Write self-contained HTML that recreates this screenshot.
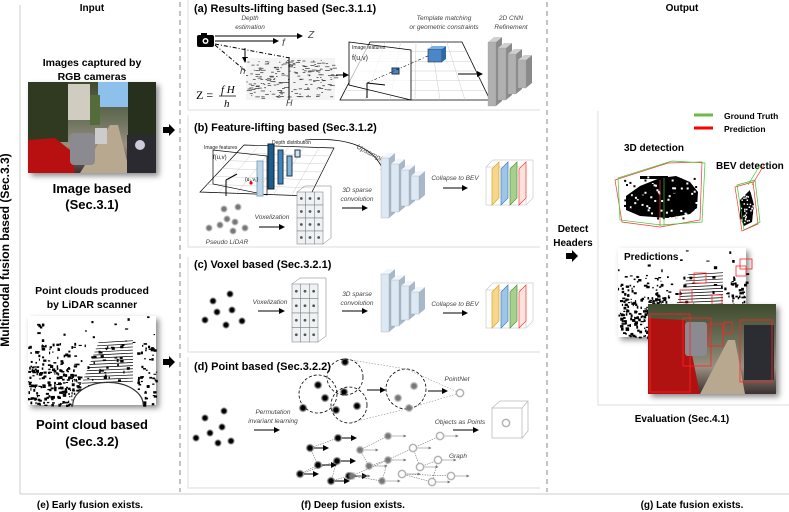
<!DOCTYPE html>
<html><head><meta charset="utf-8">
<style>
html,body{margin:0;padding:0;background:#fff;}
svg{display:block;font-family:"Liberation Sans",sans-serif;}
.b{font-weight:bold;}
.i{font-style:italic;fill:#444;}
</style></head>
<body>
<svg id="s" width="789" height="512" viewBox="0 0 789 512" xmlns="http://www.w3.org/2000/svg">
<defs>
<marker id="ar" markerWidth="6" markerHeight="6" refX="5" refY="3" orient="auto"><path d="M0,0L6,3L0,6z" fill="#000"/></marker>
<marker id="ag" markerWidth="5" markerHeight="5" refX="4" refY="2.5" orient="auto"><path d="M0,0L5,2.5L0,5z" fill="#777"/></marker>
<radialGradient id="dotk"><stop offset="0.45" stop-color="#000"/><stop offset="1" stop-color="#000" stop-opacity="0"/></radialGradient>
<radialGradient id="dotg"><stop offset="0.45" stop-color="#777"/><stop offset="1" stop-color="#777" stop-opacity="0"/></radialGradient>
<radialGradient id="dotw"><stop offset="0.5" stop-color="#fff"/><stop offset="0.7" stop-color="#999"/><stop offset="1" stop-color="#ccc" stop-opacity="0"/></radialGradient>
<filter id="sh" x="-20%" y="-20%" width="140%" height="140%"><feDropShadow dx="3" dy="3" stdDeviation="3" flood-color="#000" flood-opacity="0.45"/></filter>
<linearGradient id="sky" x1="0" y1="0" x2="0" y2="1"><stop offset="0" stop-color="#3e4a2c"/><stop offset="0.45" stop-color="#6f7560"/><stop offset="0.7" stop-color="#9a8f80"/><stop offset="1" stop-color="#3a3030"/></linearGradient>
</defs>

<line x1="20" y1="5" x2="20" y2="494" stroke="#ccc" stroke-width="1"/>
<line x1="20" y1="494" x2="789" y2="494" stroke="#ccc" stroke-width="1"/>
<line x1="180" y1="2" x2="180" y2="492" stroke="#888" stroke-width="1" stroke-dasharray="5,4"/>
<line x1="547" y1="2" x2="547" y2="492" stroke="#888" stroke-width="1" stroke-dasharray="5,4"/>

<g stroke="#ddd" fill="none">
<polyline points="188,0 188,110 540,110"/>
<polyline points="188,115 188,247 540,247"/>
<polyline points="188,257 188,352 540,352"/>
<polyline points="188,357 188,488 540,488"/>
<polyline points="598,111 598,405 789,405"/>
</g>

<text x="9" y="250" transform="rotate(-90 9 250)" text-anchor="middle" class="b" font-size="12">Multimodal fusion based (Sec.3.3)</text>
<text x="92" y="11" text-anchor="middle" class="b" font-size="10">Input</text>
<text x="682" y="11" text-anchor="middle" class="b" font-size="10">Output</text>

<text x="92" y="66" text-anchor="middle" class="b" font-size="10.5">Images captured by</text>
<text x="92" y="80" text-anchor="middle" class="b" font-size="10.5">RGB cameras</text>
<g filter="url(#sh)"><rect x="28" y="82" width="128" height="91" fill="url(#sky)"/></g>
<rect x="28" y="82" width="128" height="91" fill="url(#sky)"/>
<rect x="98" y="82" width="30" height="25" fill="#8ec0ec"/>
<rect x="28" y="82" width="40" height="60" fill="#2f3a20"/>
<rect x="128" y="82" width="28" height="60" fill="#26301c"/>
<rect x="68" y="84" width="22" height="36" fill="#d0ccc2"/>
<rect x="90" y="95" width="10" height="30" fill="#556b3a"/>
<polygon points="80,173 110,125 118,125 130,173" fill="#b8a890"/>
<path d="M28,140 L55,138 L70,150 L75,173 L28,173z" fill="#b81010"/>
<rect x="70" y="133" width="25" height="32" rx="4" fill="#8a8a90"/>
<rect x="127" y="135" width="29" height="38" fill="#2a2a30"/>
<circle cx="140" cy="145" r="5" fill="#ccd"/>
<rect x="95" y="128" width="12" height="16" fill="#ccc"/>
<text x="92" y="193" text-anchor="middle" class="b" font-size="13">Image based</text>
<text x="92" y="209" text-anchor="middle" class="b" font-size="13">(Sec.3.1)</text>

<text x="92" y="294" text-anchor="middle" class="b" font-size="10.5">Point clouds produced</text>
<text x="92" y="308" text-anchor="middle" class="b" font-size="10.5">by LiDAR scanner</text>
<rect x="28" y="316" width="128" height="89" fill="#fff" filter="url(#sh)"/>
<g id="pc1"></g>
<text x="92" y="429" text-anchor="middle" class="b" font-size="13">Point cloud based</text>
<text x="92" y="446" text-anchor="middle" class="b" font-size="13">(Sec.3.2)</text>

<path d="M163,127 h6 v-3 l6,6 l-6,6 v-3 h-6z" fill="#000"/>
<path d="M163,359 h6 v-3 l6,6 l-6,6 v-3 h-6z" fill="#000"/>
<path d="M566,253 h6 v-3 l6,6 l-6,6 v-3 h-6z" fill="#000"/>
<text x="573" y="232" text-anchor="middle" class="b" font-size="10">Detect</text>
<text x="573" y="246" text-anchor="middle" class="b" font-size="10">Headers</text>

<!-- (a) -->
<text x="194" y="12" class="b" font-size="11">(a) Results-lifting based (Sec.3.1.1)</text>
<text x="250" y="20" text-anchor="middle" class="i" font-size="6.5">Depth</text>
<text x="250" y="29" text-anchor="middle" class="i" font-size="6.5">estimation</text>
<rect x="197" y="35" width="17" height="12" rx="2" fill="#000"/>
<rect x="201" y="33" width="6" height="3" fill="#000"/>
<circle cx="205.5" cy="41" r="3" fill="#fff"/><circle cx="205.5" cy="41" r="1.5" fill="#000"/>
<line x1="215" y1="36" x2="302" y2="36" stroke="#000" marker-end="url(#ar)"/>
<text x="308" y="38" class="i" font-size="10" fill="#222">Z</text>
<line x1="215" y1="41" x2="278" y2="41" stroke="#000" marker-end="url(#ar)"/>
<text x="282" y="46" class="i" font-size="10" fill="#222">f</text>
<line x1="215" y1="44" x2="290" y2="58" stroke="#000" stroke-dasharray="4,2,1,2"/>
<line x1="215" y1="45" x2="262" y2="85" stroke="#000" stroke-dasharray="4,2,1,2"/>
<line x1="245" y1="48" x2="245" y2="62" stroke="#000" marker-end="url(#ar)"/>
<text x="240" y="74" class="i" font-size="10" fill="#222">h</text>
<rect x="246" y="58" width="89" height="42" fill="#f4f4f4"/>
<g id="dimg"></g>
<line x1="289" y1="57" x2="289" y2="100" stroke="#000"/>
<text x="286" y="106" class="i" font-size="9" fill="#222">H</text>
<text x="196" y="99" font-family="Liberation Serif,serif" font-size="12">Z =</text>
<text x="221" y="93" font-family="Liberation Serif,serif" font-style="italic" font-size="11">f H</text>
<line x1="219" y1="96" x2="236" y2="96" stroke="#000" stroke-width="0.8"/>
<text x="224" y="107" font-family="Liberation Serif,serif" font-style="italic" font-size="11">h</text>
<line x1="336" y1="75" x2="348" y2="75" stroke="#000" marker-end="url(#ar)"/>
<polygon points="370,42 462,42 490,100 340,100" fill="#fff" stroke="#000" stroke-width="0.8"/>
<g stroke="#ccc" stroke-width="0.5" id="grid1"></g>
<polygon points="349,42 411,50 411,100 349,85" fill="#fff" fill-opacity="0.7" stroke="#000" stroke-width="0.8"/>
<text x="352" y="49" font-size="5" fill="#222">Image features</text>
<text x="352" y="60" font-size="7" fill="#222">f(u,v)</text>
<line x1="367" y1="83" x2="367" y2="98" stroke="#000"/>
<line x1="367" y1="83" x2="385" y2="85" stroke="#000"/>
<rect x="392" y="68" width="7" height="6" fill="#4a86c8" stroke="#234"/>
<line x1="367" y1="83" x2="430" y2="55" stroke="#000" stroke-dasharray="3,2,1,2" stroke-width="0.6"/>
<rect x="428" y="49" width="14" height="13" fill="#4a86c8" stroke="#234" stroke-width="0.6"/>
<polygon points="428,49 432,46 446,46 442,49" fill="#7ab0e8"/>
<polygon points="442,49 446,46 446,59 442,62" fill="#2f6aa8"/>
<text x="444" y="20" text-anchor="middle" class="i" font-size="6.5">Template matching</text>
<text x="444" y="29" text-anchor="middle" class="i" font-size="6.5">or geometric constraints</text>
<text x="511" y="20" text-anchor="middle" class="i" font-size="6.5">2D CNN</text>
<text x="511" y="29" text-anchor="middle" class="i" font-size="6.5">Refinement</text>
<line x1="458" y1="74" x2="482" y2="74" stroke="#000" marker-end="url(#ar)"/>
<g id="cnn1"></g>

<!-- (b) -->
<text x="194" y="131" class="b" font-size="11">(b) Feature-lifting based (Sec.3.1.2)</text>
<polygon points="244,145 334,148 310,196 200,192" fill="#fff" stroke="#000" stroke-width="0.7"/>
<g id="grid2" stroke="#ccc" stroke-width="0.5"></g>
<polygon points="213,150 267,156 267,195 213,184" fill="none" stroke="#000" stroke-width="0.7"/>
<text x="204" y="149" font-size="5" fill="#222">Image features</text>
<text x="213" y="159" font-size="6" fill="#222">f(u,v)</text>
<text x="272" y="144" font-size="5" fill="#222">Depth distribution</text>
<rect x="257" y="161" width="6" height="35" fill="#bcd6ea" stroke="#8ab"/>
<rect x="268" y="144" width="6" height="45" fill="#1d5b8a" stroke="#123"/>
<rect x="278" y="150" width="5" height="34" fill="#3e84bd" stroke="#234"/>
<rect x="287" y="156" width="5" height="20" fill="#7fb3dc" stroke="#234"/>
<rect x="295" y="150" width="5" height="7" fill="#cfe3f3" stroke="#234"/>
<circle cx="251" cy="183" r="1.6" fill="red"/>
<line x1="226" y1="180" x2="226" y2="196" stroke="#000"/><line x1="226" y1="180" x2="237" y2="174" stroke="#000"/>
<text x="245" y="181" font-size="5">(u₁,v₁)</text>
<path d="M305,140 Q370,135 384,172" fill="none" stroke="#000" stroke-width="0.8" marker-end="url(#ar)"/>
<text x="356" y="148" class="i" font-size="7" transform="rotate(28 356 148)">Upsampling</text>
<g id="cnn2"></g>
<text x="455" y="180" text-anchor="middle" class="i" font-size="6.5">Collapse to BEV</text>
<line x1="443" y1="188" x2="467" y2="188" stroke="#000" marker-end="url(#ar)"/>
<g id="bev1"></g>
<g id="pl"></g>
<text x="227" y="244" text-anchor="middle" class="i" font-size="6.5">Pseudo LiDAR</text>
<text x="272" y="219" text-anchor="middle" class="i" font-size="6.5">Voxelization</text>
<line x1="259" y1="227" x2="284" y2="227" stroke="#000" marker-end="url(#ar)"/>
<g id="vox1"></g>
<text x="357" y="192" text-anchor="middle" class="i" font-size="6.5">3D sparse</text>
<text x="357" y="201" text-anchor="middle" class="i" font-size="6.5">convolution</text>
<line x1="342" y1="208" x2="367" y2="208" stroke="#000" marker-end="url(#ar)"/>

<!-- (c) -->
<text x="194" y="268" class="b" font-size="11">(c) Voxel based (Sec.3.2.1)</text>
<g id="pc2"></g>
<text x="270" y="304" text-anchor="middle" class="i" font-size="6.5">Voxelization</text>
<line x1="258" y1="311" x2="284" y2="311" stroke="#000" marker-end="url(#ar)"/>
<g id="vox2"></g>
<text x="357" y="296" text-anchor="middle" class="i" font-size="6.5">3D sparse</text>
<text x="357" y="305" text-anchor="middle" class="i" font-size="6.5">convolution</text>
<line x1="342" y1="311" x2="367" y2="311" stroke="#000" marker-end="url(#ar)"/>
<g id="cnn3"></g>
<text x="455" y="306" text-anchor="middle" class="i" font-size="6.5">Collapse to BEV</text>
<line x1="443" y1="313" x2="467" y2="313" stroke="#000" marker-end="url(#ar)"/>
<g id="bev2"></g>

<!-- (d) -->
<text x="194" y="370" class="b" font-size="11">(d) Point based (Sec.3.2.2)</text>
<g id="pc3"></g>
<text x="273" y="414" text-anchor="middle" class="i" font-size="6.5">Permutation</text>
<text x="273" y="423" text-anchor="middle" class="i" font-size="6.5">invariant learning</text>
<line x1="254" y1="430" x2="279" y2="430" stroke="#000" marker-end="url(#ar)"/>
<g fill="none" stroke="#000" stroke-dasharray="3,2" stroke-width="0.8">
<circle cx="318" cy="394" r="19"/><circle cx="345" cy="377" r="18"/><circle cx="349" cy="405" r="18"/><circle cx="406" cy="389" r="20"/>
</g>
<g stroke="#777" stroke-width="0.5" stroke-dasharray="1.5,1.5">
<line x1="345" y1="359" x2="406" y2="369"/><line x1="349" y1="423" x2="406" y2="409"/>
<line x1="406" y1="369" x2="460" y2="393"/><line x1="406" y1="409" x2="460" y2="393"/>
</g>
<line x1="367" y1="390" x2="385" y2="390" stroke="#000" marker-end="url(#ar)"/>
<line x1="428" y1="391" x2="447" y2="391" stroke="#000" marker-end="url(#ar)"/>
<text x="457" y="381" text-anchor="middle" class="i" font-size="6.5">PointNet</text>
<text x="460" y="424" text-anchor="middle" class="i" font-size="6.5">Objects as Points</text>
<line x1="453" y1="430" x2="478" y2="430" stroke="#000" marker-end="url(#ar)"/>
<g fill="none" stroke="#bbb" stroke-width="0.8">
<rect x="492" y="408" width="30" height="30"/><polyline points="492,408 500,401 528,401 528,431 522,438"/><line x1="522" y1="408" x2="528" y2="401"/>
</g>
<circle cx="506" cy="423" r="5" fill="url(#dotw)"/>
<text x="458" y="458" text-anchor="middle" class="i" font-size="6.5">Graph</text>
<g id="graph"></g>

<!-- output -->
<line x1="694" y1="115" x2="713" y2="115" stroke="#6dbb44" stroke-width="3"/>
<line x1="694" y1="128" x2="713" y2="128" stroke="#f00" stroke-width="3"/>
<text x="724" y="119" class="b" font-size="8.5">Ground Truth</text>
<text x="724" y="132" class="b" font-size="8.5">Prediction</text>
<text x="624" y="151" class="b" font-size="10">3D detection</text>
<text x="716" y="169" class="b" font-size="10">BEV detection</text>
<g id="car3d"></g>
<g fill="none" stroke-width="0.7">
<polygon points="615,180 668,163 702,162 700,220 660,227 622,222" stroke="#f33"/>
<polygon points="618,178 672,161 705,163 702,222 661,225 620,220" stroke="#3c3"/>
<line x1="660" y1="180" x2="660" y2="226" stroke="#f33"/>
<line x1="664" y1="178" x2="664" y2="226" stroke="#3c3"/>
<polygon points="737,185 755,180 760,222 744,230" stroke="#3c3"/>
<polygon points="735,187 753,182 758,224 742,231" stroke="#f33"/>
<line x1="748" y1="185" x2="760" y2="165" stroke="#3c3"/>
<line x1="752" y1="185" x2="764" y2="165" stroke="#f33"/>
</g>
<rect x="618" y="248" width="128" height="89" fill="#fff" filter="url(#sh)"/>
<g id="pc4"></g>
<rect x="620" y="250" width="58" height="14" fill="#fff"/>
<text x="624" y="260" class="b" font-size="10">Predictions</text>
<g filter="url(#sh)"><rect x="648" y="304" width="128" height="90" fill="url(#sky)"/></g>
<rect x="648" y="304" width="128" height="90" fill="url(#sky)"/>
<polygon points="700,394 728,340 735,340 745,394" fill="#b8a890"/>
<path d="M648,318 L685,320 L700,394 L648,394z" fill="#b01212"/>
<rect x="685" y="322" width="22" height="34" rx="3" fill="#8a8a90"/>
<rect x="744" y="325" width="30" height="55" fill="#2c2c33"/>
<g fill="none" stroke="#f22" stroke-width="0.8">
<rect x="650" y="314" width="40" height="78"/><rect x="683" y="318" width="28" height="48"/><rect x="708" y="324" width="15" height="22"/><rect x="740" y="320" width="32" height="62"/><rect x="724" y="322" width="8" height="12"/>
</g>
<text x="682" y="422" text-anchor="middle" class="b" font-size="10">Evaluation (Sec.4.1)</text>

<text x="90" y="508" text-anchor="middle" class="b" font-size="10">(e) Early fusion exists.</text>
<text x="353" y="508" text-anchor="middle" class="b" font-size="10">(f) Deep fusion exists.</text>
<text x="692" y="508" text-anchor="middle" class="b" font-size="10">(g) Late fusion exists.</text>
</svg>
<script>
var NS="http://www.w3.org/2000/svg";
function el(p,t,a){var e=document.createElementNS(NS,t);for(var k in a)e.setAttribute(k,a[k]);document.getElementById(p).appendChild(e);return e;}
var seed=7;function r(){seed=(seed*16807)%2147483647;return seed/2147483647;}
function pcloud(id,x,y,w,h,n){
 for(var i=0;i<n;i++){var px=x+r()*w,py=y+r()*h;var fx=(px-x)/w,fy=(py-y)/h;
  var dens;
  if(fy<0.3) dens=0.04;
  else if(fx<0.4) dens=fy>0.55?0.75:0.35;
  else if(fx>0.85) dens=0.45;
  else dens=0.08;
  if(r()<dens) el(id,"rect",{x:px,y:py,width:1+r()*2.5,height:1+r()*2,fill:"#000"});}
 for(var j=0;j<14;j++){var yy=y+h*(0.3+j*0.035);el(id,"line",{x1:x+w*(0.55-j*0.01),y1:yy,x2:x+w*0.82,y2:yy-2,stroke:"#000","stroke-width":0.7});}
 el(id,"path",{d:"M"+(x+w*0.35)+","+(y+h)+" A"+(w*0.27)+","+(h*0.25)+" 0 0 1 "+(x+w*0.9)+","+(y+h),fill:"#fff",stroke:"#333","stroke-width":1.2});
}
pcloud("pc1",28,316,128,89,1400);
seed=11;pcloud("pc4",618,248,128,89,1400);
[[740,259,12,10],[694,273,12,10],[680,290,12,12],[670,305,12,10],[712,295,10,10],[736,266,10,10]].forEach(function(b){el("pc4","rect",{x:b[0],y:b[1],width:b[2],height:b[3],fill:"none",stroke:"#f22","stroke-width":0.8});});
seed=3;for(var i=0;i<200;i++){el("dimg","rect",{x:246+r()*88,y:60+r()*38,width:1+r()*4,height:0.7,fill:"#333"});}
for(var i=1;i<6;i++){var t=i/6;el("grid1","line",{x1:370+92*t,y1:42,x2:340+150*t,y2:100});el("grid1","line",{x1:370-30*t,y1:42+58*t,x2:462+28*t,y2:42+58*t});}
for(var i=1;i<6;i++){var t=i/6;el("grid2","line",{x1:244+90*t,y1:145+3*t,x2:200+110*t,y2:192+4*t});el("grid2","line",{x1:244-44*t,y1:145+47*t,x2:334-24*t,y2:148+48*t});}
function cnn(id,x,y,h,fill,side,top){var ws=[[0,0,h],[10,6,h-12],[20,12,h-24],[30,18,h-36]];
 ws.forEach(function(s){var X=x+s[0],Y=y+s[1],H=s[2];
 el(id,"polygon",{points:(X+8)+","+Y+" "+(X+14)+","+(Y-5)+" "+(X+14)+","+(Y+H-5)+" "+(X+8)+","+(Y+H),fill:side});
 el(id,"polygon",{points:X+","+Y+" "+(X+6)+","+(Y-5)+" "+(X+14)+","+(Y-5)+" "+(X+8)+","+Y,fill:top});
 el(id,"rect",{x:X,y:Y,width:8,height:H,fill:fill,stroke:"#999","stroke-width":0.3});});}
cnn("cnn1",488,42,64,"#b0b0b0","#8a8a8a","#d0d0d0");
cnn("cnn2",381,158,60,"#dce8f4","#a9b8c8","#f0f6fb");
cnn("cnn3",381,274,58,"#dce8f4","#a9b8c8","#f0f6fb");
function bev(id,x,y){el(id,"rect",{x:x,y:y+7,width:40,height:38,fill:"#fff",stroke:"#ccc","stroke-width":0.7});
 el(id,"polyline",{points:x+","+(y+7)+" "+(x+7)+","+y+" "+(x+47)+","+y+" "+(x+47)+","+(y+38)+" "+(x+40)+","+(y+45),fill:"none",stroke:"#ccc","stroke-width":0.7});
 [["#f6d68a","#d9a52a"],["#9ec4e8","#3d7fc2"],["#a8d08d","#55913a"],["#fbe3de","#f33"]].forEach(function(c,i){var X=x+6+i*9;
 el(id,"polygon",{points:X+","+(y+45)+" "+X+","+(y+9)+" "+(X+7)+","+(y+2)+" "+(X+7)+","+(y+38),fill:c[0],stroke:c[1],"stroke-width":0.7});});}
bev("bev1",486,160);bev("bev2",486,283);
function vox(id,x,y,w,h){for(var c=0;c<3;c++)for(var rr=0;rr<4;rr++){var X=x+c*w/3,Y=y+rr*h/4;
 el(id,"rect",{x:X,y:Y,width:w/3,height:h/4,fill:"#eef2f5",stroke:"#777","stroke-width":0.5});
 el(id,"circle",{cx:X+w/6,cy:Y+h/8,r:1.4,fill:"#555"});}
 el(id,"polyline",{points:x+","+y+" "+(x+8)+","+(y-6)+" "+(x+w+8)+","+(y-6)+" "+(x+w+8)+","+(y+h-6)+" "+(x+w)+","+(y+h),fill:"none",stroke:"#777","stroke-width":0.5});}
vox("vox1",297,192,26,52);vox("vox2",292,284,26,58);
function dots(id,pts,g,r0){pts.forEach(function(p){el(id,"circle",{cx:p[0],cy:p[1],r:r0,fill:g});});}
dots("pl",[[224,209],[238,207],[227,219],[235,222],[209,228],[220,225],[233,231],[245,228]],"url(#dotg)",4);
dots("pc2",[[213,301],[230,294],[217,312],[232,310],[205,320],[242,321],[226,325]],"url(#dotk)",4);
dots("pc3",[[224,411],[205,418],[222,427],[210,433],[196,438],[231,441],[218,443]],"url(#dotk)",4);
var cdots=[[345,362],[318,385],[325,398],[344,392],[303,408],[336,410],[357,406]];
cdots.forEach(function(p){el("graph","circle",{cx:p[0],cy:p[1],r:4.5,fill:"url(#dotk)"});});
el("graph","circle",{cx:398,cy:398,r:4.5,fill:"url(#dotg)"});el("graph","circle",{cx:414,cy:386,r:4.5,fill:"url(#dotg)"});el("graph","circle",{cx:409,cy:408,r:4.5,fill:"url(#dotg)"});
el("graph","circle",{cx:460,cy:393,r:5,fill:"url(#dotw)"});
var G=[[338,438,"k"],[310,448,"k"],[318,465,"k"],[300,474,"k"],[337,461,"k"],[331,481,"k"],[349,476,"k"],
[388,436,"g"],[360,450,"g"],[369,466,"g"],[388,460,"g"],[382,481,"g"],[352,476,"g"],
[440,436,"w"],[413,448,"w"],[420,467,"w"],[438,460,"w"],[432,482,"w"],[402,474,"w"],[451,476,"w"]];
for(var i=0;i<G.length-1;i++){if(i%7!=6)el("graph","line",{x1:G[i][0],y1:G[i][1],x2:G[i+1][0],y2:G[i+1][1],stroke:"#555","stroke-width":0.5,"stroke-dasharray":"1.5,1"});}
G.forEach(function(p){el("graph","line",{x1:p[0]+4,y1:p[1],x2:p[0]+18,y2:p[1],stroke:p[2]=="k"?"#000":"#888","stroke-width":p[2]=="k"?1:0.6,"marker-end":p[2]=="k"?"url(#ar)":"url(#ag)"});
 el("graph","circle",{cx:p[0],cy:p[1],r:p[2]=="w"?5:4.5,fill:p[2]=="k"?"url(#dotk)":p[2]=="g"?"url(#dotg)":"url(#dotw)"});});
// 3d car silhouette
el("car3d","path",{d:"M626,196 L640,186 L660,178 L676,176 L690,182 L698,192 L697,208 L690,214 L668,218 L640,216 L626,210z",fill:"#000"});
el("car3d","rect",{x:640,y:176,width:28,height:3,fill:"#000"});
seed=5;for(var i=0;i<120;i++){el("car3d","rect",{x:624+r()*76,y:176+r()*44,width:2,height:2,fill:r()<0.5?"#fff":"#000"});}
el("car3d","path",{d:"M740,200 L750,190 L754,205 L752,222 L744,226 L740,218z",fill:"#000"});
for(var i=0;i<40;i++){el("car3d","rect",{x:740+r()*14,y:190+r()*34,width:1.5,height:1.5,fill:"#fff"});}
</script>
</body></html>
